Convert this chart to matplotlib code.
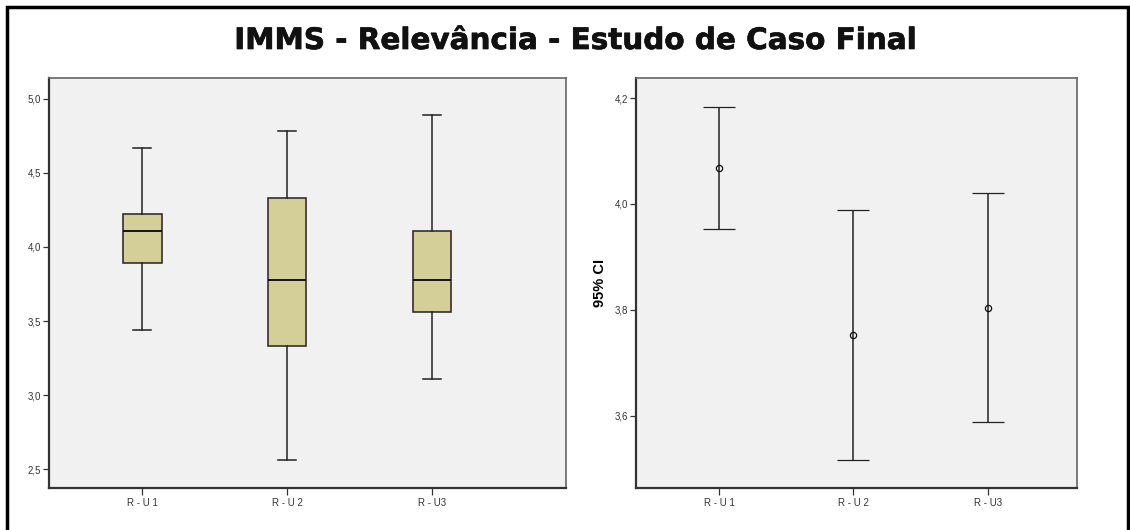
import numpy as np
import matplotlib
matplotlib.use("Agg")
from matplotlib import pyplot as plt
from matplotlib import ticker
from matplotlib import patheffects
from matplotlib.patches import Rectangle

plt.rcParams['font.family'] = ['Liberation Sans', 'DejaVu Sans']

# grupos
grupos = ["R - U 1", "R - U 2", "R - U3"]

# boxplot: bigodes, quartis e mediana
bigode_inf = [3.44, 2.56, 3.11]
q1 = [3.89, 3.33, 3.56]
mediana = [4.11, 3.78, 3.78]
q3 = [4.22, 4.33, 4.11]
bigode_sup = [4.67, 4.78, 4.89]

# intervalo de confianca 95% da media
media = [4.068, 3.753, 3.804]
ic_inf = [3.953, 3.516, 3.587]
ic_sup = [4.183, 3.989, 4.021]

ticks_box = [2.5, 3.0, 3.5, 4.0, 4.5, 5.0]
ticks_ic = [3.6, 3.8, 4.0, 4.2]

fundo = "#f0f1f0"
caixa = "#d4cf98"


def virgula(v, p):
    return ("%.1f" % v).replace(".", ",")


def estilo_eixo(ax):
    ax.set_facecolor(fundo)
    for s in ["left", "bottom"]:
        ax.spines[s].set_color("#333333")
        ax.spines[s].set_linewidth(1.6)
    for s in ["top", "right"]:
        ax.spines[s].set_color("#666666")
        ax.spines[s].set_linewidth(1.2)
    ax.tick_params(axis="both", direction="out", length=4, width=0.9,
                   colors="#333333", labelsize=7, pad=1.5)
    ax.tick_params(axis="x", length=5, pad=2.5)


fig = plt.figure(figsize=(11.3, 5.3), dpi=100)

fig.patches.append(Rectangle((7 / 1130, -0.1), 1121 / 1130, 1.1 - 7 / 530,
                             transform=fig.transFigure, fill=False,
                             edgecolor="black", linewidth=2.5))

titulo = fig.text(575 / 1130, 1 - 41 / 530, "IMMS - Relevância - Estudo de Caso Final",
                  ha="center", va="center", fontsize=21.2, fontweight="bold",
                  family="DejaVu Sans", color="#111111")
titulo.set_path_effects([patheffects.withStroke(linewidth=0.5, foreground="#111111")])

# boxplot
ax1 = fig.add_axes([49 / 1130, 42 / 530, 517 / 1130, 410 / 530])
estilo_eixo(ax1)
stats = []
for i in range(len(grupos)):
    stats.append({"whislo": bigode_inf[i], "q1": q1[i], "med": mediana[i],
                  "q3": q3[i], "whishi": bigode_sup[i], "fliers": []})
pos = np.arange(1, len(grupos) + 1)
ax1.bxp(stats, positions=pos, widths=0.265, patch_artist=True, showfliers=False,
        boxprops=dict(facecolor=caixa, edgecolor="#222222", linewidth=1.1),
        medianprops=dict(color="#111111", linewidth=1.4),
        whiskerprops=dict(color="#222222", linewidth=1.1),
        capprops=dict(color="#222222", linewidth=1.1), capwidths=0.125)
ax1.set_xlim(0.356, 3.924)
ax1.set_ylim(2.374, 5.14)
ax1.set_yticks(ticks_box)
ax1.yaxis.set_major_formatter(ticker.FuncFormatter(virgula))
ax1.set_xticks(pos)
ax1.set_xticklabels(grupos)

# intervalo de confianca
ax2 = fig.add_axes([636 / 1130, 42 / 530, 441 / 1130, 410 / 530])
estilo_eixo(ax2)
media_a = np.array(media)
erro = [media_a - np.array(ic_inf), np.array(ic_sup) - media_a]
ax2.errorbar(pos, media, yerr=erro, fmt="o", color="#111111", ecolor="#222222",
             elinewidth=1.1, capsize=11.8, capthick=1.1, markersize=4.5,
             markerfacecolor="none", markeredgewidth=0.9)
ax2.set_xlim(0.382, 3.665)
ax2.set_ylim(3.463, 4.238)
ax2.set_yticks(ticks_ic)
ax2.yaxis.set_major_formatter(ticker.FuncFormatter(virgula))
ax2.set_xticks(pos)
ax2.set_xticklabels(grupos)
ax2.set_ylabel("95% CI", fontsize=10.5, fontweight="bold", labelpad=6)

fig.savefig("out.png", dpi=100)
